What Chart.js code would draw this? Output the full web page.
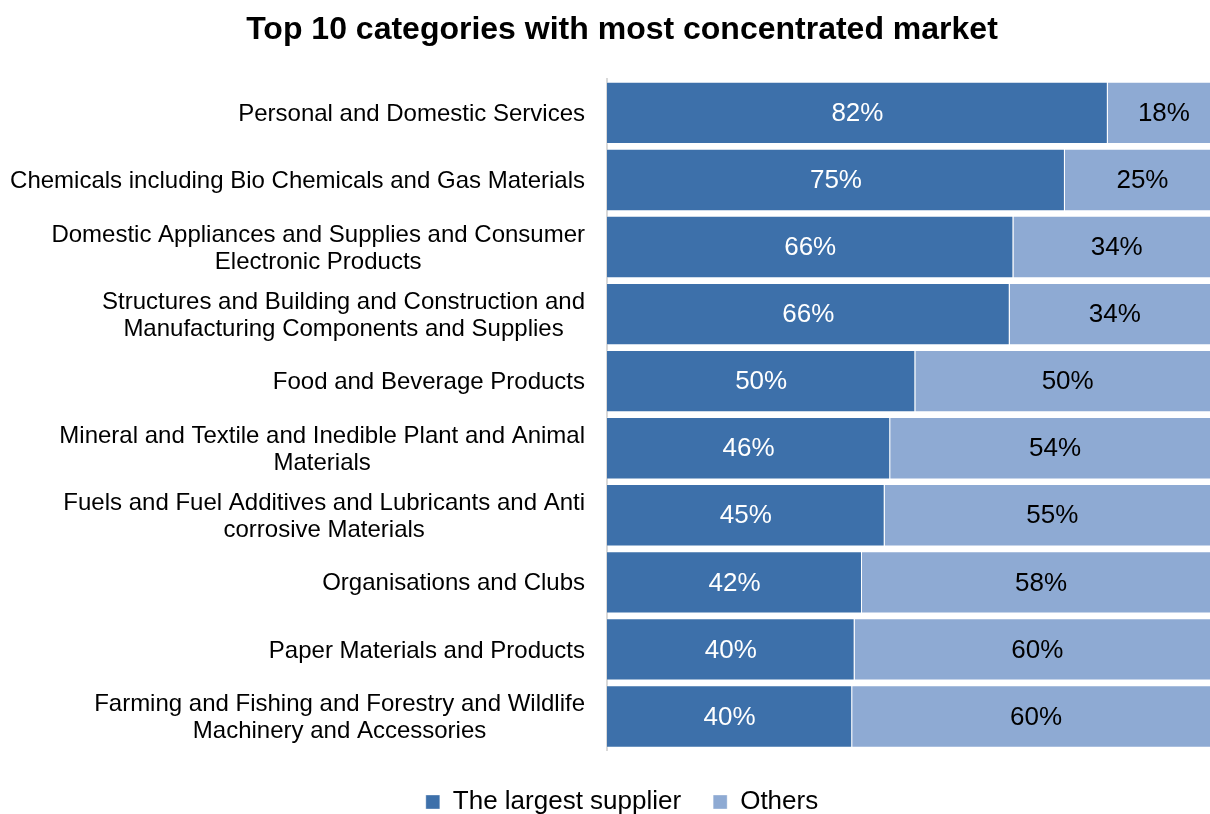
<!DOCTYPE html>
<html>
<head>
<meta charset="utf-8">
<script src="https://cdn.jsdelivr.net/npm/chart.js@4/dist/chart.umd.min.js"></script>
<style>
    html, body { margin: 0; padding: 0; background: #fff; overflow: hidden; }
    #chart { display: block; }
</style>
</head>
<body>
<canvas id="chart" width="1244" height="829"></canvas>
<script>
const categories = [
    ['Personal and Domestic Services'],
    ['Chemicals including Bio Chemicals and Gas Materials'],
    ['Domestic Appliances and Supplies and Consumer', 'Electronic Products'],
    ['Structures and Building and Construction and', 'Manufacturing Components and Supplies'],
    ['Food and Beverage Products'],
    ['Mineral and Textile and Inedible Plant and Animal', 'Materials'],
    ['Fuels and Fuel Additives and Lubricants and Anti', 'corrosive Materials'],
    ['Organisations and Clubs'],
    ['Paper Materials and Products'],
    ['Farming and Fishing and Forestry and Wildlife', 'Machinery and Accessories'],
];
const largestSupplier = [81.7, 74.7, 66.3, 65.7, 50.3, 46.2, 45.3, 41.6, 40.4, 40.0];
const others = [18.3, 25.3, 33.7, 34.3, 49.7, 53.8, 54.7, 58.4, 59.6, 60.0];

const FONT = "'Liberation Sans', Arial, sans-serif";
const darkBlue = '#3d70aa';
const lightBlue = '#8eaad3';

// Category names, lines centred on each other, block right-aligned to the axis
const categoryLabels = {
    id: 'categoryLabels',
    afterDraw(chart) {
        const ctx = chart.ctx;
        const yScale = chart.scales.y;
        const right = chart.chartArea.left - 22;
        const lineHeight = 27;
        ctx.save();
        ctx.font = '24px ' + FONT;
        ctx.fillStyle = '#000';
        ctx.textAlign = 'center';
        ctx.textBaseline = 'middle';
        categories.forEach((lines, i) => {
            const y = yScale.getPixelForTick(i) + 1.5;
            const maxW = Math.max(...lines.map(l => ctx.measureText(l).width));
            const cx = right - maxW / 2;
            const top = y - (lines.length - 1) * lineHeight / 2;
            lines.forEach((line, j) => ctx.fillText(line, cx, top + j * lineHeight));
        });
        ctx.restore();
    }
};

// Percent labels in the middle of every segment
const valueLabels = {
    id: 'valueLabels',
    afterDatasetsDraw(chart) {
        const ctx = chart.ctx;
        ctx.save();
        ctx.font = '26px ' + FONT;
        ctx.textAlign = 'center';
        ctx.textBaseline = 'middle';
        chart.data.datasets.forEach((ds, d) => {
            const meta = chart.getDatasetMeta(d);
            ctx.fillStyle = d === 0 ? '#fff' : '#000';
            meta.data.forEach((bar, i) => {
                const x = (bar.x + bar.base) / 2;
                ctx.fillText(Math.round(ds.data[i]) + '%', x, bar.y + 1);
            });
        });
        ctx.restore();
    }
};

new Chart(document.getElementById('chart'), {
    type: 'bar',
    data: {
        labels: categories,
        datasets: [
            {
                label: 'The largest supplier',
                data: largestSupplier,
                backgroundColor: darkBlue,
                borderColor: 'rgba(255,255,255,0.35)',
                borderWidth: 1,
                barPercentage: 0.93,
                categoryPercentage: 1,
            },
            {
                label: 'Others',
                data: others,
                backgroundColor: lightBlue,
                borderColor: 'rgba(255,255,255,0.35)',
                borderWidth: 1,
                barPercentage: 0.93,
                categoryPercentage: 1,
            }
        ]
    },
    options: {
        indexAxis: 'y',
        responsive: false,
        animation: false,
        layout: {
            padding: { left: 24, right: 24, top: 0, bottom: 4 }
        },
        scales: {
            x: {
                stacked: true,
                min: 0,
                max: 100,
                grid: { display: false },
                border: { display: false },
                ticks: { display: false },
                afterFit(axis) { axis.height = 7; },
            },
            y: {
                stacked: true,
                grid: { display: false },
                border: { display: true, color: '#d9d9d9', width: 2 },
                ticks: { display: false },
                afterFit(axis) { axis.width = 583; },
            }
        },
        plugins: {
            title: {
                display: true,
                text: 'Top 10 categories with most concentrated market',
                color: '#000',
                font: { family: FONT, size: 32, weight: 'bold' },
                padding: { top: 11, bottom: 30 },
            },
            legend: {
                position: 'bottom',
                labels: {
                    color: '#000',
                    font: { family: FONT, size: 26 },
                    boxWidth: 14,
                    boxHeight: 14,
                    padding: 32,
                },
            },
            tooltip: { enabled: false },
        },
    },
    plugins: [categoryLabels, valueLabels],
});
</script>
</body>
</html>
